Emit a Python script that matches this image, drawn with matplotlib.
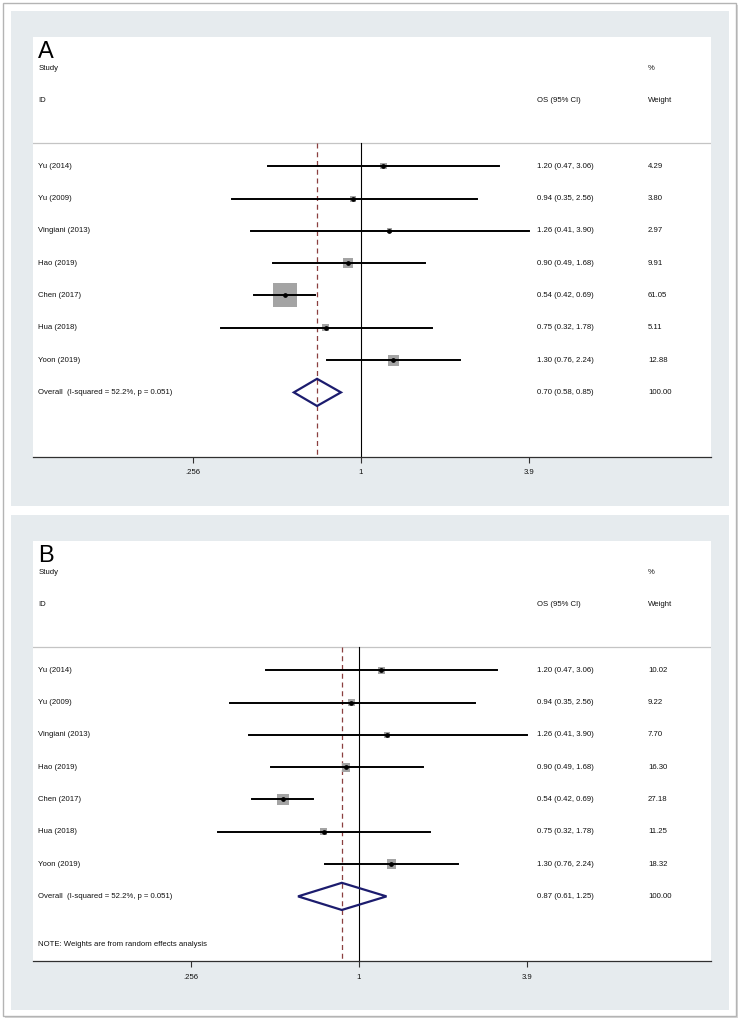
import matplotlib
matplotlib.use("Agg")
from matplotlib import pyplot as plt
from matplotlib.patches import Rectangle, Polygon
import numpy as np

plt.rcParams['font.family'] = ['Liberation Sans', 'DejaVu Sans']

# Data
studies = ['Yu (2014)', 'Yu (2009)', 'Vingiani (2013)', 'Hao (2019)',
           'Chen (2017)', 'Hua (2018)', 'Yoon (2019)']
os_est = [1.20, 0.94, 1.26, 0.90, 0.54, 0.75, 1.30]
ci_low = [0.47, 0.35, 0.41, 0.49, 0.42, 0.32, 0.76]
ci_high = [3.06, 2.56, 3.90, 1.68, 0.69, 1.78, 2.24]
weights_a = [4.29, 3.80, 2.97, 9.91, 61.05, 5.11, 12.88]
weights_b = [10.02, 9.22, 7.70, 16.30, 27.18, 11.25, 18.32]
overall_a = [0.70, 0.58, 0.85]
overall_b = [0.87, 0.61, 1.25]
overall_label = 'Overall  (I-squared = 52.2%, p = 0.051)'
tick_vals = [0.256, 1, 3.9]
tick_labels = ['.256', '1', '3.9']

W, H = 740, 1022
fig = plt.figure(figsize=(W / 100, H / 100), dpi=100)
fig.patch.set_facecolor('white')

def px_rect(x0, y0, x1, y1, z, **kw):
    # rectangle in figure pixel coords, y from top
    r = Rectangle((x0 / W, 1 - y1 / H), (x1 - x0) / W, (y1 - y0) / H,
                  transform=fig.transFigure, zorder=z, **kw)
    fig.add_artist(r)

# outer frame with a faint shadow
px_rect(5, 5, 738, 1018, -4, facecolor='#d8d8d8', edgecolor='none')
px_rect(3, 3, 736, 1016, -3, facecolor='white', edgecolor='#b4b4b4', lw=1.0)

bg = '#e6ebee'
txt = '#111111'
fs = 5.6

def panel(top, letter, weights, overall, box_k, xlim, note=None):
    px_rect(11, top - 26, 729, top + 469, -2, facecolor=bg, edgecolor='none')
    ax = fig.add_axes([33 / W, 1 - (top + 420) / H, 678 / W, 420 / H])
    ax.set_facecolor('white')
    ax.set_xscale('log')
    ax.set_xlim(xlim)
    ax.set_ylim(10, -3)
    for s in ['top', 'left', 'right']:
        ax.spines[s].set_visible(False)
    ax.spines['bottom'].set_color('#303030')
    ax.spines['bottom'].set_linewidth(0.9)
    ax.set_yticks([])
    ax.minorticks_off()
    ax.set_xticks(tick_vals)
    ax.set_xticklabels(tick_labels, fontsize=fs, color=txt)
    ax.tick_params(axis='x', length=4, width=0.8, color='#303030', pad=5)

    tr = ax.get_yaxis_transform()  # x in axes fraction, y in data
    ax.text(0.008, -2.55, letter, transform=tr, fontsize=17, va='center', ha='left', color='black')
    ax.text(0.008, -2.03, 'Study', transform=tr, fontsize=fs, va='center', color=txt)
    ax.text(0.008, -1.04, 'ID', transform=tr, fontsize=fs, va='center', color=txt)
    ax.text(0.907, -2.03, '%', transform=tr, fontsize=fs, va='center', color=txt)
    ax.text(0.7434, -1.04, 'OS (95% CI)', transform=tr, fontsize=fs, va='center', color=txt)
    ax.text(0.907, -1.04, 'Weight', transform=tr, fontsize=fs, va='center', color=txt)
    ax.axhline(0.275, color='#c4c4c4', lw=0.9)

    ax.plot([1, 1], [0.275, 10], color='black', lw=0.8, zorder=2)
    ax.plot([overall[0]] * 2, [0.275, 10], color='#8b3f3f', lw=0.9,
            ls=(0, (4, 3)), zorder=2)

    rows = np.arange(1, len(studies) + 1)
    for i, r in enumerate(rows):
        side_pt = box_k * np.sqrt(weights[i]) * 0.72
        ax.scatter(os_est[i], r, marker='s', s=side_pt ** 2, color='#a4a4a4',
                   edgecolors='none', zorder=3)
        ax.plot([ci_low[i], ci_high[i]], [r, r], color='black', lw=1.4, zorder=4)
        ax.plot(os_est[i], r, marker='o', ms=2.4, color='black', zorder=5)
        ax.text(0.008, r, studies[i], transform=tr, fontsize=fs, va='center', color=txt)
        ax.text(0.7434, r, '%.2f (%.2f, %.2f)' % (os_est[i], ci_low[i], ci_high[i]),
                transform=tr, fontsize=fs, va='center', color=txt)
        ax.text(0.907, r, '%.2f' % weights[i], transform=tr, fontsize=fs,
                va='center', color=txt)

    ro = len(studies) + 1
    est, lo, hi = overall
    dia = Polygon([[lo, ro], [est, ro - 0.42], [hi, ro], [est, ro + 0.42]],
                  closed=True, fill=False, edgecolor='#1c1c6e', lw=1.6, zorder=6)
    ax.add_patch(dia)
    ax.text(0.008, ro, overall_label, transform=tr, fontsize=fs, va='center', color=txt)
    ax.text(0.7434, ro, '%.2f (%.2f, %.2f)' % (est, lo, hi), transform=tr,
            fontsize=fs, va='center', color=txt)
    ax.text(0.907, ro, '100.00', transform=tr, fontsize=fs, va='center', color=txt)
    if note:
        ax.text(0.008, 9.5, note, transform=tr, fontsize=fs, va='center', color=txt)
    return ax

panel(37, 'A', weights_a, overall_a, 3.07, (0.0699, 17.10))
panel(541, 'B', weights_b, overall_b, 2.17, (0.0711, 17.37),
      note='NOTE: Weights are from random effects analysis')

fig.savefig('out.png', dpi=100, facecolor='white')
